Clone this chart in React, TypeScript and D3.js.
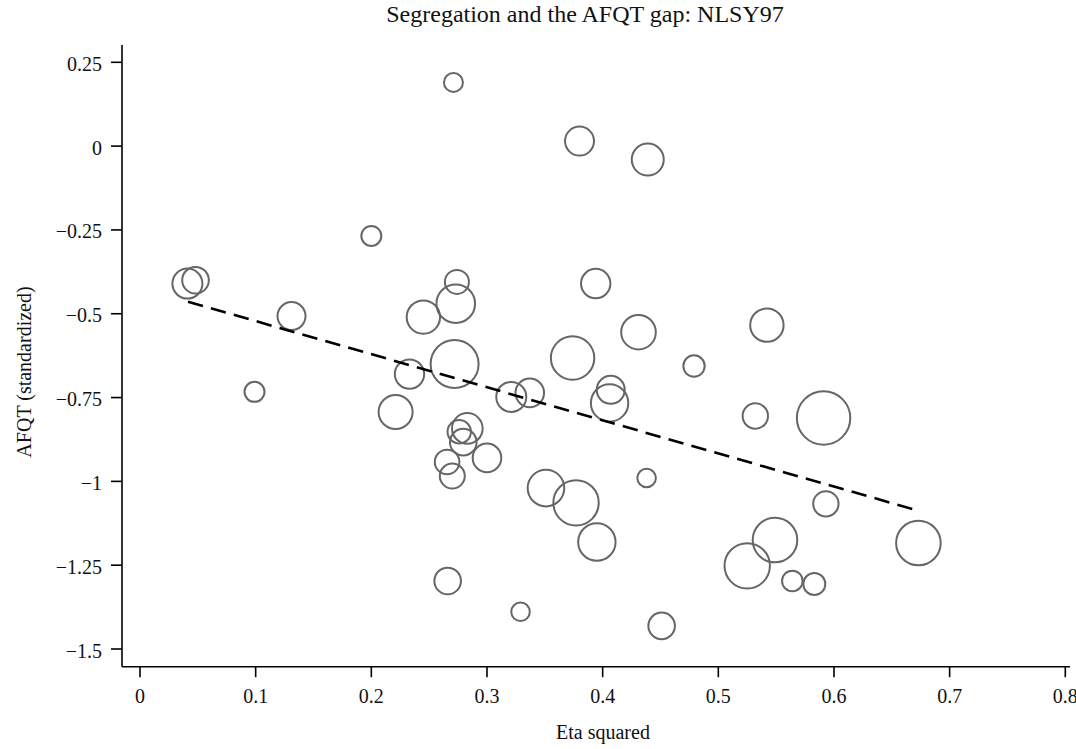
import React from "react";
import * as d3 from "d3";

// Eta squared (segregation index) per metro area
const etaSquared = [
  0.271, 0.380, 0.439, 0.200, 0.041, 0.048, 0.274, 0.394, 0.131, 0.245, 0.273,
  0.431, 0.542, 0.272, 0.374, 0.479, 0.099, 0.233, 0.221, 0.321, 0.337, 0.407,
  0.406, 0.532, 0.591, 0.283, 0.276, 0.2795, 0.300, 0.2655, 0.270, 0.351, 0.377,
  0.395, 0.438, 0.266, 0.329, 0.451, 0.525, 0.549, 0.593, 0.673, 0.564, 0.583,
];
// AFQT gap (standardized)
const afqt = [
  0.19, 0.015, -0.04, -0.268, -0.41, -0.40, -0.405, -0.41, -0.507, -0.51, -0.47,
  -0.555, -0.534, -0.65, -0.632, -0.656, -0.733, -0.68, -0.793, -0.748, -0.736, -0.727,
  -0.766, -0.805, -0.811, -0.842, -0.852, -0.883, -0.93, -0.942, -0.984, -1.02, -1.064,
  -1.181, -0.99, -1.297, -1.389, -1.431, -1.252, -1.175, -1.067, -1.184, -1.297, -1.306,
];
// Relative weights (marker area)
const weights = [
  90, 210, 256, 100, 225, 177, 144, 216, 196, 279, 372,
  299, 279, 576, 471, 114, 100, 216, 289, 225, 204, 196,
  350, 161, 713, 234, 137, 177, 204, 151, 156, 335, 515,
  350, 86, 177, 86, 177, 515, 497, 161, 497, 106, 121,
];

// Fitted line
const fitIntercept = -0.4232;
const fitSlope = -0.987;
const fitRange = [0.0415, 0.6717];

const xTicks = [0, 0.1, 0.2, 0.3, 0.4, 0.5, 0.6, 0.7, 0.8];
const xTickLabels = ["0", "0.1", "0.2", "0.3", "0.4", "0.5", "0.6", "0.7", "0.8"];
const yTicks = [0.25, 0, -0.25, -0.5, -0.75, -1, -1.25, -1.5];
const yTickLabels = ["0.25", "0", "\u22120.25", "\u22120.5", "\u22120.75", "\u22121", "\u22121.25", "\u22121.5"];

const title = "Segregation and the AFQT gap: NLSY97";
const xTitle = "Eta squared";
const yTitle = "AFQT (standardized)";

export default function App() {
  const W = 1076;
  const H = 749;
  const font = "'Liberation Serif', 'Times New Roman', serif";

  const x = d3.scaleLinear().domain([0, 0.8]).range([140, 1065.3]);
  const y = d3.scaleLinear().domain([-1.5, 0.25]).range([649, 62.3]);
  const r = d3.scaleSqrt().domain([0, 100]).range([0, 10]);

  const axisLeft = 122;
  const axisBottom = 666.7;
  const axisTop = 45;
  const axisRight = 1070;

  const pts = etaSquared.map((e, i) => ({ e, a: afqt[i], w: weights[i] }));
  const fitLine = d3
    .line<number>()
    .x((d) => x(d))
    .y((d) => y(fitIntercept + fitSlope * d));

  return (
    <svg
      width={W}
      height={H}
      style={{ position: "absolute", left: 0, top: 0, background: "#fff" }}
      fontFamily={font}
    >
      <rect x={0} y={0} width={W} height={H} fill="#fff" />
      <text x={585} y={22} textAnchor="middle" fontSize={24} fill="#111">
        {title}
      </text>

      {/* circles */}
      <g fill="none" stroke="#666" strokeWidth={2}>
        {pts.map((p, i) => (
          <circle key={i} cx={x(p.e)} cy={y(p.a)} r={r(p.w)} />
        ))}
      </g>

      {/* fit line */}
      <path
        d={fitLine(fitRange) || ""}
        fill="none"
        stroke="#000"
        strokeWidth={2.6}
        strokeDasharray="15.5,8.3"
      />

      {/* axes */}
      <g stroke="#000" strokeWidth={1.6} fill="none">
        <line x1={axisLeft} y1={axisTop} x2={axisLeft} y2={axisBottom} />
        <line x1={axisLeft} y1={axisBottom} x2={axisRight} y2={axisBottom} />
        {yTicks.map((t) => (
          <line key={"yt" + t} x1={axisLeft - 11} x2={axisLeft} y1={y(t)} y2={y(t)} />
        ))}
        {xTicks.map((t) => (
          <line key={"xt" + t} x1={x(t)} x2={x(t)} y1={axisBottom} y2={axisBottom + 10.5} />
        ))}
      </g>
      <g fontSize={20} fill="#111">
        {yTicks.map((t, i) => (
          <text key={"yl" + t} x={102} y={y(t) + 8.5} textAnchor="end">
            {yTickLabels[i]}
          </text>
        ))}
        {xTicks.map((t, i) => (
          <text key={"xl" + t} x={x(t)} y={703} textAnchor="middle">
            {xTickLabels[i]}
          </text>
        ))}
      </g>
      <text x={603} y={739} textAnchor="middle" fontSize={20} fill="#111">
        {xTitle}
      </text>
      <text
        transform={`translate(31, 372) rotate(-90)`}
        textAnchor="middle"
        fontSize={20}
        fill="#111"
      >
        {yTitle}
      </text>
    </svg>
  );
}
